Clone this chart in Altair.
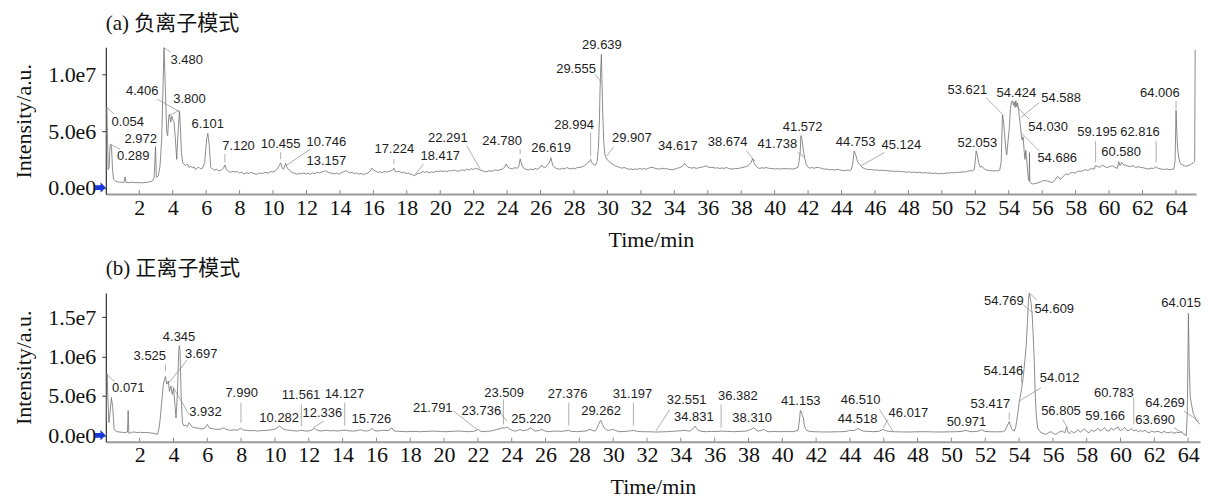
import altair as alt
import pandas as pd

# ---------------- axes ----------------
X_TICKS = list(range(2, 65, 2))
A_X_DOMAIN = [0, 65.2]
B_X_DOMAIN = [0, 64.7]

A_Y_TICKS = [0, 5e6, 1e7]
A_Y_LABELS = ["0.0e0", "5.0e6", "1.0e7"]
A_Y_DOMAIN = [-0.575e6, 12.43e6]

B_Y_TICKS = [0, 5e6, 1e7, 1.5e7]
B_Y_LABELS = ["0.0e0", "5.0e6", "1.0e6", "1.5e7"]
B_Y_DOMAIN = [-0.81e6, 18.1e6]

TITLE_A = "(a) 负离子模式"
TITLE_B = "(b) 正离子模式"
X_TITLE = "Time/min"
Y_TITLE = "Intensity/a.u."

# ---------------- panel (a) trace: (time/min, intensity in 1e6) ----------------
A_TRACE = [
    (0.0, 1.5), (0.03, 3.0), (0.054, 7.1), (0.10, 4.3), (0.14, 1.6), (0.20, 1.8), (0.25, 3.7),
    (0.289, 3.85), (0.34, 3.6), (0.40, 1.6), (0.46, 0.75), (0.60, 0.55), (0.75, 0.5), (0.90, 0.48),
    (1.09, 0.46), (1.15, 0.95), (1.21, 0.46), (1.40, 0.44), (1.60, 0.47), (1.80, 0.43), (2.00, 0.45),
    (2.20, 0.42), (2.40, 0.46), (2.60, 0.5), (2.79, 0.6), (2.89, 0.9), (2.972, 3.64), (3.02, 0.9),
    (3.14, 1.05), (3.24, 1.9), (3.34, 4.3), (3.42, 9.0), (3.48, 12.4), (3.56, 8.7), (3.64, 4.9),
    (3.70, 4.6), (3.76, 6.2), (3.80, 6.5), (3.88, 5.8), (3.94, 6.35), (4.00, 6.05), (4.08, 5.8),
    (4.16, 4.3), (4.24, 2.5), (4.32, 4.9), (4.406, 6.8), (4.46, 5.3), (4.52, 3.1), (4.60, 2.2),
    (4.70, 2.05), (4.78, 1.95), (4.88, 2.1), (4.98, 1.8), (5.08, 1.9), (5.17, 1.75), (5.27, 1.85),
    (5.37, 1.6), (5.47, 1.75), (5.57, 1.8), (5.67, 1.65), (5.77, 1.7), (5.91, 2.2), (6.03, 4.3),
    (6.101, 4.8), (6.19, 3.7), (6.27, 1.8), (6.37, 1.65), (6.47, 1.55), (6.62, 1.62), (6.77, 1.48),
    (6.90, 1.55), (7.03, 1.7), (7.12, 2.0), (7.22, 1.58), (7.34, 1.45), (7.46, 1.35), (7.60, 1.45),
    (7.74, 1.38), (7.86, 1.42), (8.00, 1.3), (8.13, 1.38), (8.26, 1.2), (8.40, 1.32), (8.53, 1.25),
    (8.66, 1.35), (8.80, 1.28), (8.92, 1.22), (9.05, 1.18), (9.18, 1.3), (9.32, 1.24), (9.45, 1.3),
    (9.58, 1.35), (9.72, 1.28), (9.85, 1.42), (10.0, 1.38), (10.15, 1.5), (10.30, 1.75),
    (10.455, 2.2), (10.55, 1.7), (10.62, 1.62), (10.746, 2.14), (10.85, 1.75), (10.95, 1.58),
    (11.05, 1.45), (11.14, 1.34), (11.28, 1.28), (11.44, 1.18), (11.58, 1.26), (11.72, 1.22),
    (11.84, 1.3), (11.98, 1.2), (12.10, 1.27), (12.24, 1.18), (12.38, 1.3), (12.50, 1.24),
    (12.64, 1.36), (12.78, 1.3), (12.90, 1.38), (13.03, 1.42), (13.157, 1.5), (13.30, 1.35),
    (13.42, 1.3), (13.53, 1.26), (13.68, 1.22), (13.80, 1.3), (13.93, 1.18), (14.06, 1.3),
    (14.20, 1.38), (14.33, 1.5), (14.46, 1.42), (14.60, 1.3), (14.73, 1.36), (14.86, 1.25),
    (15.0, 1.3), (15.12, 1.2), (15.26, 1.26), (15.40, 1.16), (15.52, 1.22), (15.66, 1.3),
    (15.80, 1.45), (15.92, 1.72), (16.02, 1.55), (16.12, 1.48), (16.26, 1.35), (16.40, 1.4),
    (16.52, 1.32), (16.66, 1.45), (16.80, 1.38), (16.92, 1.42), (17.06, 1.5), (17.15, 1.55),
    (17.224, 1.72), (17.30, 1.45), (17.41, 1.4), (17.55, 1.45), (17.68, 1.32), (17.81, 1.36),
    (17.95, 1.25), (18.08, 1.3), (18.21, 1.2), (18.34, 1.15), (18.417, 1.05), (18.51, 1.12),
    (18.65, 1.25), (18.81, 1.3), (18.95, 1.42), (19.08, 1.35), (19.20, 1.42), (19.34, 1.3),
    (19.47, 1.4), (19.60, 1.35), (19.73, 1.45), (19.86, 1.4), (20.0, 1.5), (20.13, 1.42),
    (20.27, 1.48), (20.40, 1.4), (20.54, 1.52), (20.67, 1.45), (20.80, 1.56), (20.93, 1.5),
    (21.06, 1.45), (21.19, 1.5), (21.32, 1.58), (21.46, 1.5), (21.59, 1.64), (21.72, 1.55),
    (21.86, 1.68), (21.99, 1.6), (22.13, 1.72), (22.291, 1.62), (22.39, 1.55), (22.52, 1.5),
    (22.66, 1.42), (22.79, 1.4), (22.92, 1.5), (23.05, 1.45), (23.18, 1.5), (23.31, 1.58),
    (23.45, 1.52), (23.58, 1.6), (23.72, 1.65), (23.85, 1.8), (23.95, 2.1), (24.05, 1.8),
    (24.18, 1.7), (24.32, 1.65), (24.47, 1.78), (24.60, 1.7), (24.70, 1.9), (24.78, 2.55),
    (24.88, 2.0), (24.97, 1.75), (25.10, 1.62), (25.27, 1.55), (25.40, 1.65), (25.55, 1.58),
    (25.67, 1.7), (25.80, 1.62), (25.95, 1.75), (26.07, 2.0), (26.17, 1.8), (26.26, 1.75),
    (26.40, 2.0), (26.52, 2.2), (26.619, 2.65), (26.72, 2.0), (26.86, 1.75), (27.00, 1.68),
    (27.16, 1.62), (27.30, 1.72), (27.45, 1.65), (27.55, 1.78), (27.70, 1.7), (27.82, 1.65),
    (27.95, 1.72), (28.08, 1.68), (28.22, 1.8), (28.35, 1.78), (28.50, 1.85), (28.62, 1.95),
    (28.75, 2.1), (28.88, 2.25), (28.994, 2.5), (29.08, 2.15), (29.18, 2.05), (29.28, 1.95),
    (29.38, 2.3), (29.46, 3.5), (29.52, 6.0), (29.555, 8.6), (29.60, 10.6), (29.639, 11.8),
    (29.68, 9.0), (29.72, 6.5), (29.78, 4.0), (29.85, 2.9), (29.907, 2.7), (29.98, 2.5),
    (30.10, 2.3), (30.22, 2.15), (30.35, 2.05), (30.50, 1.9), (30.62, 1.85), (30.74, 1.78),
    (30.88, 1.72), (31.0, 1.78), (31.14, 1.7), (31.28, 1.62), (31.40, 1.66), (31.54, 1.58),
    (31.68, 1.66), (31.80, 1.62), (31.94, 1.7), (32.08, 1.62), (32.20, 1.68), (32.33, 1.64),
    (32.47, 1.72), (32.60, 1.8), (32.73, 1.78), (32.86, 1.7), (33.0, 1.66), (33.13, 1.64),
    (33.27, 1.72), (33.40, 1.66), (33.53, 1.7), (33.67, 1.62), (33.80, 1.6), (33.93, 1.58),
    (34.06, 1.66), (34.19, 1.72), (34.32, 1.78), (34.45, 1.85), (34.55, 2.0), (34.617, 2.15),
    (34.72, 1.95), (34.82, 1.8), (34.92, 1.78), (35.05, 1.72), (35.18, 1.78), (35.32, 1.7),
    (35.45, 1.76), (35.60, 1.8), (35.75, 1.85), (35.92, 1.92), (36.05, 1.8), (36.18, 1.78),
    (36.31, 1.8), (36.45, 1.72), (36.58, 1.76), (36.71, 1.7), (36.85, 1.74), (36.98, 1.7),
    (37.11, 1.78), (37.25, 1.7), (37.38, 1.66), (37.51, 1.64), (37.65, 1.7), (37.78, 1.68),
    (37.91, 1.72), (38.05, 1.78), (38.18, 1.82), (38.30, 1.87), (38.42, 1.95), (38.52, 2.1),
    (38.60, 2.25), (38.674, 2.55), (38.76, 2.2), (38.84, 2.0), (38.92, 1.85), (39.02, 1.75),
    (39.10, 1.7), (39.24, 1.76), (39.37, 1.72), (39.50, 1.78), (39.63, 1.72), (39.76, 1.68),
    (39.89, 1.7), (40.02, 1.64), (40.16, 1.7), (40.29, 1.64), (40.42, 1.68), (40.56, 1.66),
    (40.69, 1.7), (40.82, 1.64), (40.96, 1.68), (41.09, 1.64), (41.24, 1.7), (41.39, 1.8),
    (41.47, 2.4), (41.53, 3.2), (41.572, 4.6), (41.63, 4.3), (41.69, 3.6), (41.738, 3.1),
    (41.80, 2.6), (41.89, 2.05), (41.98, 1.85), (42.09, 1.72), (42.22, 1.78), (42.38, 1.72),
    (42.52, 1.8), (42.68, 1.76), (42.82, 1.7), (42.98, 1.62), (43.12, 1.66), (43.28, 1.58),
    (43.42, 1.6), (43.58, 1.55), (43.72, 1.62), (43.87, 1.58), (44.02, 1.52), (44.18, 1.5),
    (44.32, 1.55), (44.47, 1.52), (44.58, 1.6), (44.67, 2.1), (44.753, 3.25), (44.83, 3.0),
    (44.92, 2.5), (45.0, 2.2), (45.124, 2.0), (45.22, 1.8), (45.36, 1.7), (45.50, 1.62),
    (45.66, 1.58), (45.80, 1.6), (45.95, 1.54), (46.10, 1.58), (46.26, 1.5), (46.42, 1.55),
    (46.58, 1.5), (46.74, 1.52), (46.90, 1.45), (47.06, 1.48), (47.22, 1.42), (47.38, 1.46),
    (47.54, 1.4), (47.70, 1.42), (47.86, 1.36), (48.02, 1.4), (48.18, 1.34), (48.34, 1.38),
    (48.50, 1.32), (48.66, 1.36), (48.82, 1.3), (48.98, 1.34), (49.14, 1.28), (49.30, 1.3),
    (49.46, 1.24), (49.62, 1.3), (49.78, 1.22), (49.94, 1.26), (50.10, 1.24), (50.26, 1.3),
    (50.42, 1.28), (50.58, 1.34), (50.74, 1.3), (50.90, 1.36), (51.06, 1.34), (51.22, 1.4),
    (51.38, 1.38), (51.54, 1.45), (51.70, 1.5), (51.82, 1.48), (51.94, 1.6), (52.0, 2.4),
    (52.053, 3.25), (52.12, 2.9), (52.20, 2.2), (52.30, 1.8), (52.40, 1.9), (52.50, 1.7),
    (52.63, 1.58), (52.78, 1.52), (52.92, 1.5), (53.06, 1.48), (53.20, 1.5), (53.33, 1.48),
    (53.46, 1.55), (53.55, 2.3), (53.621, 6.4), (53.68, 6.0), (53.75, 4.8), (53.82, 3.5),
    (53.88, 2.9), (53.95, 4.0), (54.03, 5.2), (54.10, 7.0), (54.16, 7.6), (54.22, 7.7),
    (54.28, 7.3), (54.33, 7.6), (54.38, 7.1), (54.424, 7.7), (54.48, 7.2), (54.53, 7.5),
    (54.588, 7.0), (54.63, 6.3), (54.686, 5.6), (54.74, 4.8), (54.80, 4.2), (54.86, 4.5),
    (54.92, 3.3), (54.97, 2.5), (55.02, 3.3), (55.08, 2.4), (55.14, 1.2), (55.18, 0.75),
    (55.22, 0.6), (55.24, 3.1), (55.26, 0.5), (55.34, 0.38), (55.42, 0.32), (55.55, 0.36),
    (55.72, 0.4), (55.88, 0.5), (56.02, 0.6), (56.18, 0.62), (56.32, 0.58), (56.47, 0.5),
    (56.61, 0.46), (56.76, 0.65), (56.91, 0.99), (57.01, 0.85), (57.11, 0.75), (57.26, 1.0),
    (57.41, 1.2), (57.56, 1.15), (57.70, 1.3), (57.81, 1.34), (57.96, 1.28), (58.10, 1.42),
    (58.21, 1.48), (58.36, 1.44), (58.50, 1.55), (58.60, 1.58), (58.75, 1.52), (58.88, 1.65),
    (59.0, 1.7), (59.10, 1.62), (59.195, 1.95), (59.30, 1.87), (59.45, 1.8), (59.60, 1.99),
    (59.75, 1.85), (59.90, 1.78), (60.05, 1.88), (60.20, 1.93), (60.35, 1.8), (60.49, 1.7),
    (60.58, 2.3), (60.65, 1.95), (60.75, 2.25), (60.87, 2.0), (60.99, 1.99), (61.14, 1.9),
    (61.29, 1.87), (61.44, 1.95), (61.59, 1.78), (61.74, 1.85), (61.88, 1.8), (61.99, 1.78),
    (62.14, 1.72), (62.26, 1.68), (62.38, 1.64), (62.52, 1.72), (62.66, 1.7), (62.816, 1.85),
    (62.92, 1.72), (63.05, 1.66), (63.18, 1.64), (63.32, 1.6), (63.45, 1.66), (63.58, 1.58),
    (63.72, 1.62), (63.88, 1.64), (63.95, 2.4), (64.006, 6.85), (64.05, 5.0), (64.10, 3.4),
    (64.18, 2.6), (64.25, 2.2), (64.38, 2.0), (64.50, 1.93), (64.65, 1.9), (64.80, 1.99),
    (64.92, 2.1), (65.05, 2.2), (65.12, 2.3), (65.15, 12.2),
]

# ---------------- panel (b) trace: (time/min, intensity in 1e6) ----------------
B_TRACE = [
    (0.0, 1.5), (0.02, 1.8), (0.071, 7.8), (0.12, 4.8), (0.18, 1.6), (0.26, 3.1), (0.33, 4.8),
    (0.41, 3.5), (0.49, 0.75), (0.60, 0.55), (0.69, 0.46), (0.85, 0.4), (1.0, 0.38), (1.08, 0.33),
    (1.28, 0.42), (1.32, 3.15), (1.36, 0.25), (1.50, 0.38), (1.67, 0.42), (1.85, 0.36),
    (2.05, 0.38), (2.26, 0.33), (2.45, 0.36), (2.65, 0.3), (2.85, 0.25), (3.05, 0.12),
    (3.15, 0.96), (3.22, 2.2), (3.29, 3.9), (3.40, 6.5), (3.525, 7.5), (3.60, 6.5), (3.697, 6.9),
    (3.76, 5.6), (3.84, 6.25), (3.932, 5.2), (4.0, 6.0), (4.07, 4.35), (4.15, 2.2), (4.23, 5.2),
    (4.31, 10.7), (4.345, 11.4), (4.39, 10.7), (4.45, 5.2), (4.53, 1.6), (4.62, 1.2), (4.72, 1.3),
    (4.82, 1.1), (4.92, 1.6), (5.02, 1.3), (5.12, 1.05), (5.30, 0.95), (5.51, 0.88), (5.70, 0.8),
    (5.88, 0.95), (6.0, 1.39), (6.1, 1.0), (6.2, 0.88), (6.40, 0.8), (6.59, 0.75), (6.80, 0.8),
    (6.99, 0.96), (7.10, 0.75), (7.38, 0.63), (7.60, 0.7), (7.80, 0.65), (7.97, 0.9), (8.10, 0.68),
    (8.36, 0.63), (8.60, 0.58), (8.80, 0.62), (8.95, 0.54), (9.20, 0.6), (9.54, 0.63), (9.75, 0.68),
    (9.94, 0.75), (10.10, 0.9), (10.282, 1.18), (10.40, 0.95), (10.53, 0.75), (10.70, 0.68),
    (10.92, 0.63), (11.10, 0.58), (11.31, 0.54), (11.45, 0.6), (11.60, 0.63), (11.75, 0.56),
    (11.90, 0.54), (12.10, 0.6), (12.336, 0.88), (12.45, 0.7), (12.69, 0.54), (12.90, 0.6),
    (13.09, 0.63), (13.30, 0.56), (13.50, 0.6), (13.68, 0.54), (13.90, 0.6), (14.17, 0.66),
    (14.40, 0.56), (14.66, 0.54), (14.85, 0.6), (15.05, 0.71), (15.25, 0.58), (15.45, 0.54),
    (15.60, 0.65), (15.726, 0.9), (15.85, 0.62), (16.04, 0.54), (16.25, 0.6), (16.43, 0.63),
    (16.70, 0.6), (16.92, 0.96), (17.02, 0.6), (17.12, 0.54), (17.40, 0.5), (17.81, 0.46),
    (18.20, 0.5), (18.59, 0.46), (19.0, 0.5), (19.38, 0.54), (19.78, 0.48), (20.17, 0.46),
    (20.56, 0.52), (20.96, 0.54), (21.25, 0.48), (21.55, 0.46), (21.80, 0.54), (22.04, 0.75),
    (22.14, 0.55), (22.24, 0.46), (22.50, 0.5), (22.73, 0.54), (22.92, 0.62), (23.12, 0.75),
    (23.30, 0.82), (23.42, 0.96), (23.55, 0.9), (23.72, 1.05), (23.80, 0.95), (23.91, 0.75),
    (24.05, 0.6), (24.21, 0.54), (24.36, 0.6), (24.50, 0.75), (24.62, 0.6), (24.80, 0.63),
    (24.95, 0.7), (25.13, 0.96), (25.26, 0.7), (25.39, 0.54), (25.60, 0.6), (25.78, 0.75),
    (25.95, 0.56), (26.17, 0.46), (26.40, 0.52), (26.67, 0.54), (26.90, 0.5), (27.15, 0.56),
    (27.36, 0.63), (27.55, 0.5), (27.85, 0.46), (28.10, 0.5), (28.40, 0.56), (28.63, 0.75),
    (28.80, 0.6), (28.93, 0.54), (29.05, 0.9), (29.13, 1.39), (29.262, 1.9), (29.36, 1.4),
    (29.46, 0.96), (29.60, 0.7), (29.72, 0.63), (29.85, 0.68), (30.01, 0.75), (30.20, 0.56),
    (30.40, 0.46), (30.70, 0.5), (30.95, 0.54), (31.19, 0.63), (31.45, 0.5), (31.70, 0.46),
    (31.98, 0.46), (32.25, 0.44), (32.57, 0.42), (32.85, 0.44), (33.16, 0.46), (33.45, 0.5),
    (33.75, 0.54), (34.0, 0.58), (34.24, 0.63), (34.40, 0.56), (34.54, 0.54), (34.70, 0.8),
    (34.831, 1.18), (34.93, 0.9), (35.03, 0.63), (35.25, 0.5), (35.52, 0.46), (35.80, 0.5),
    (36.10, 0.48), (36.41, 0.54), (36.75, 0.5), (37.10, 0.46), (37.50, 0.5), (37.88, 0.54),
    (38.10, 0.7), (38.31, 0.96), (38.45, 0.7), (38.57, 0.54), (38.75, 0.6), (38.91, 0.75),
    (39.05, 0.55), (39.16, 0.46), (39.50, 0.48), (39.85, 0.46), (40.25, 0.48), (40.64, 0.46),
    (40.93, 0.63), (41.0, 1.6), (41.07, 3.17), (41.153, 2.8), (41.19, 2.45), (41.25, 2.2),
    (41.29, 1.39), (41.36, 0.9), (41.43, 0.63), (41.62, 0.5), (41.82, 0.46), (42.20, 0.44),
    (42.61, 0.42), (43.0, 0.44), (43.39, 0.46), (43.59, 0.46), (43.80, 0.5), (43.98, 0.63),
    (44.25, 0.6), (44.47, 0.88), (44.60, 0.7), (44.77, 0.54), (45.05, 0.5), (45.36, 0.46),
    (45.70, 0.5), (45.95, 0.75), (46.10, 0.6), (46.24, 0.54), (46.54, 0.46), (46.90, 0.44),
    (47.33, 0.42), (47.80, 0.44), (48.31, 0.46), (48.80, 0.44), (49.29, 0.42), (49.80, 0.44),
    (50.28, 0.46), (50.60, 0.5), (50.87, 0.63), (51.05, 0.5), (51.26, 0.46), (51.55, 0.5),
    (51.81, 0.71), (51.98, 0.5), (52.24, 0.46), (52.60, 0.44), (53.03, 0.46), (53.17, 0.6),
    (53.27, 1.05), (53.417, 1.73), (53.50, 1.2), (53.58, 0.75), (53.72, 0.54), (53.80, 1.0),
    (53.86, 1.81), (53.94, 3.0), (54.012, 4.3), (54.10, 5.3), (54.146, 5.8), (54.21, 6.8),
    (54.30, 8.5), (54.41, 11.0), (54.50, 14.5), (54.56, 17.4), (54.609, 18.05), (54.70, 17.0),
    (54.769, 15.6), (54.83, 13.0), (54.90, 9.5), (54.96, 5.0), (55.02, 2.5), (55.10, 0.9),
    (55.24, 0.46), (55.40, 0.25), (55.59, 0.12), (55.75, 0.35), (55.89, 0.46), (56.05, 0.2),
    (56.18, 0.12), (56.35, 0.4), (56.57, 0.54), (56.70, 0.3), (56.805, 1.05), (56.90, 0.35),
    (56.97, 0.2), (57.10, 0.55), (57.22, 0.3), (57.36, 0.46), (57.50, 0.7), (57.62, 0.4),
    (57.75, 0.63), (57.88, 0.8), (58.02, 0.45), (58.15, 0.33), (58.28, 0.7), (58.40, 0.5),
    (58.54, 0.63), (58.68, 0.9), (58.80, 0.55), (58.94, 0.75), (59.05, 1.0), (59.166, 0.6),
    (59.33, 0.54), (59.45, 0.95), (59.58, 0.65), (59.72, 0.88), (59.85, 1.05), (59.98, 0.6),
    (60.12, 0.75), (60.25, 1.0), (60.38, 0.6), (60.51, 0.63), (60.65, 0.85), (60.783, 0.54),
    (60.92, 0.7), (61.05, 0.45), (61.18, 0.6), (61.30, 0.46), (61.45, 0.65), (61.58, 0.4),
    (61.69, 0.33), (61.85, 0.55), (62.0, 0.4), (62.15, 0.5), (62.28, 0.46), (62.42, 0.3),
    (62.58, 0.5), (62.72, 0.35), (62.87, 0.33), (63.0, 0.45), (63.15, 0.25), (63.30, 0.4),
    (63.46, 0.33), (63.60, 0.45), (63.70, 0.2), (63.82, 0.12), (63.89, -0.1), (63.95, 3.0),
    (64.015, 15.5), (64.06, 9.0), (64.12, 5.0), (64.20, 3.9), (64.30, 2.8), (64.50, 1.85),
    (64.75, 1.3), (65.0, 0.96), (65.15, 0.9),
]

# ---------------- peak labels: (text, time, intensity 1e6) ----------------
A_LABELS = [
    ("3.480", 4.84, 11.31), ("4.406", 2.18, 8.57), ("3.800", 5.00, 7.89), ("0.054", 1.31, 5.82),
    ("2.972", 2.09, 4.35), ("0.289", 1.64, 2.81), ("6.101", 6.09, 5.68), ("7.120", 7.94, 3.70),
    ("10.455", 10.45, 3.85), ("10.746", 13.19, 4.05), ("13.157", 13.19, 2.32),
    ("17.224", 17.25, 3.41), ("18.417", 20.00, 2.81), ("22.291", 20.45, 4.44),
    ("24.780", 23.70, 4.14), ("26.619", 26.63, 3.47), ("28.994", 28.00, 5.53),
    ("29.555", 28.12, 10.55), ("29.639", 29.67, 12.64), ("29.907", 31.46, 4.44),
    ("34.617", 34.21, 3.70), ("38.674", 37.19, 4.00), ("41.738", 40.16, 3.85),
    ("41.572", 41.67, 5.33), ("44.753", 44.84, 4.05), ("45.124", 47.58, 3.79),
    ("52.053", 52.12, 3.94), ("53.621", 51.52, 8.65), ("54.424", 54.45, 8.36),
    ("54.588", 57.13, 7.92), ("54.030", 56.36, 5.33), ("54.686", 56.90, 2.61),
    ("59.195", 59.28, 4.97), ("60.580", 60.72, 3.12), ("62.816", 61.85, 4.97),
    ("64.006", 63.04, 8.42),
]
B_LABELS = [
    ("0.071", 1.33, 6.04), ("3.525", 2.60, 10.06), ("4.345", 4.33, 12.47), ("3.697", 5.64, 10.36),
    ("3.932", 5.89, 2.99), ("7.990", 8.03, 5.32), ("10.282", 10.25, 2.14), ("11.561", 11.54, 5.11),
    ("12.336", 12.80, 2.78), ("14.127", 14.11, 5.19), ("15.726", 15.70, 2.02),
    ("21.791", 19.33, 3.41), ("23.736", 22.20, 3.08), ("23.509", 23.55, 5.41),
    ("25.220", 25.15, 2.02), ("27.376", 27.30, 5.19), ("29.262", 29.28, 3.08),
    ("31.197", 31.14, 5.19), ("32.551", 34.34, 4.43), ("34.831", 34.77, 2.32),
    ("36.382", 37.37, 4.99), ("38.310", 38.22, 2.14), ("41.153", 41.09, 4.35),
    ("44.518", 44.45, 2.11), ("46.510", 44.63, 4.43), ("46.017", 47.46, 2.78),
    ("50.971", 50.89, 1.73), ("53.417", 52.30, 3.92), ("54.146", 53.07, 8.16),
    ("54.012", 56.40, 7.31), ("54.769", 53.10, 17.04), ("54.609", 56.08, 16.07),
    ("56.805", 56.48, 3.08), ("59.166", 59.09, 2.45), ("60.783", 59.60, 5.32),
    ("63.690", 62.04, 1.94), ("64.269", 62.63, 4.14), ("64.015", 63.58, 16.83),
]

# ---------------- leader lines: (t1, v1, t2, v2) ----------------
A_LEADERS = [
    (3.48, 12.41, 3.88, 12.0), (3.09, 7.83, 4.44, 6.71), (4.38, 6.86, 3.78, 6.35),
    (0.06, 7.1, 0.5, 6.5), (0.26, 3.85, 0.85, 3.41), (7.12, 2.96, 7.12, 2.26),
    (10.455, 3.14, 10.455, 2.52), (10.75, 1.93, 12.24, 3.41), (17.224, 2.52, 17.224, 2.08),
    (18.51, 1.19, 19.0, 2.08), (21.59, 3.7, 22.39, 1.64), (24.78, 3.41, 24.78, 2.96),
    (28.994, 4.91, 28.994, 2.81), (29.25, 10.04, 29.6, 9.4), (30.35, 3.56, 29.95, 2.81),
    (38.31, 3.26, 38.81, 2.37), (41.39, 3.12, 41.79, 2.67), (46.57, 3.12, 45.18, 1.93),
    (52.64, 7.98, 53.73, 6.35), (55.82, 7.54, 54.73, 6.21), (55.22, 6.06, 54.43, 7.24),
    (55.82, 3.26, 54.73, 4.88), (59.195, 4.14, 59.195, 2.23), (62.816, 4.14, 62.816, 2.23),
    (64.006, 7.68, 64.006, 6.95),
]
B_LEADERS = [
    (0.1, 7.65, 0.53, 6.8), (3.525, 9.0, 3.525, 8.16), (4.82, 9.63, 3.74, 6.68),
    (4.92, 2.65, 3.94, 6.26), (7.99, 4.14, 7.99, 1.6), (11.561, 3.92, 11.561, 1.18),
    (12.89, 1.81, 12.26, 0.96), (14.127, 4.14, 14.127, 1.23), (20.56, 3.08, 21.94, 0.75),
    (23.32, 2.87, 23.71, 1.81), (23.509, 4.56, 23.509, 1.38), (27.376, 4.14, 27.376, 1.23),
    (31.197, 4.14, 31.197, 1.23), (33.35, 3.29, 32.53, 0.55), (36.382, 3.92, 36.382, 0.96),
    (45.75, 3.29, 46.54, 0.55), (46.22, 1.98, 45.98, 0.96), (53.417, 2.87, 53.417, 2.02),
    (54.146, 9.0, 54.146, 6.68), (55.29, 6.04, 54.01, 4.35), (54.25, 16.61, 54.8, 15.56),
    (55.04, 17.25, 54.6, 18.1), (56.57, 2.02, 56.87, 0.96), (60.783, 4.77, 60.783, 1.38),
    (63.16, 0.96, 63.65, 0.33), (63.75, 3.08, 64.64, 1.81),
]

# marker at the zero line (time, intensity)
ZERO_MARK = [(-0.33, 0.0)]

SERIF = "Liberation Serif"
TITLE_FONT = "'Liberation Serif', 'Noto Sans CJK SC'"
ARROW = "M -1 -0.45 L 0.05 -0.45 L 0.05 -1 L 1 0 L 0.05 1 L 0.05 0.45 L -1 0.45 Z"
M = 1e6


def label_expr(ticks, labels):
    expr = "''"
    for t, lab in reversed(list(zip(ticks, labels))):
        expr = f"datum.value == {t} ? '{lab}' : ({expr})"
    return expr


def panel(title, trace, labels, leaders, x_dom, y_dom, y_ticks, y_labels, w, h, title_offset):
    tdf = pd.DataFrame(trace, columns=["t", "v"])
    tdf["v"] = tdf["v"] * M
    ldf = pd.DataFrame(labels, columns=["text", "t", "v"])
    ldf["v"] = ldf["v"] * M
    rdf = pd.DataFrame(leaders, columns=["t", "v", "t2", "v2"])
    rdf["v"] = rdf["v"] * M
    rdf["v2"] = rdf["v2"] * M
    mdf = pd.DataFrame(ZERO_MARK, columns=["t", "v"])
    kdf = pd.DataFrame({"t": [t for t in X_TICKS if t <= x_dom[1]]})

    xs = alt.Scale(domain=x_dom, nice=False, zero=False)
    ys = alt.Scale(domain=y_dom, nice=False, zero=False)
    xax = alt.Axis(values=X_TICKS, title=X_TITLE, ticks=False, grid=False,
                   domainColor="#9a9a9a", domainWidth=2,
                   labelFont=SERIF, labelFontSize=22, labelColor="#111", labelPadding=3,
                   labelFlush=False, labelOverlap=False, labelSeparation=0, format="d",
                   titleFont=SERIF, titleFontSize=22, titleFontWeight="normal",
                   titleColor="#111", titlePadding=11)
    yax = alt.Axis(values=y_ticks, labelExpr=label_expr(y_ticks, y_labels), title=Y_TITLE,
                   grid=False, domainColor="#333", domainWidth=1.2, tickColor="#333",
                   tickSize=4, labelFont=SERIF, labelFontSize=22, labelColor="#111",
                   labelPadding=6, labelFlush=False, labelOverlap=False,
                   titleFont=SERIF, titleFontSize=22, titleFontWeight="normal",
                   titleColor="#111", titlePadding=12)

    line = alt.Chart(tdf).mark_line(color="#707070", strokeWidth=0.8, clip=True).encode(
        x=alt.X("t:Q", scale=xs, axis=xax), y=alt.Y("v:Q", scale=ys, axis=yax))
    lead = alt.Chart(rdf).mark_rule(color="#8c8c8c", strokeWidth=0.7).encode(
        x=alt.X("t:Q", axis=xax), y=alt.Y("v:Q", axis=yax), x2="t2:Q", y2="v2:Q")
    txt = alt.Chart(ldf).mark_text(font="Liberation Sans", fontSize=13, color="#1e1e1e").encode(
        x=alt.X("t:Q", axis=xax), y=alt.Y("v:Q", axis=yax), text="text:N")
    ticks = alt.Chart(kdf).mark_rule(color="#888", strokeWidth=1).encode(
        x=alt.X("t:Q", axis=xax), y=alt.value(h), y2=alt.value(h - 4))
    mark = alt.Chart(mdf).mark_point(shape=ARROW, filled=True, color="#1538d6",
                                     size=110, opacity=1).encode(
        x=alt.X("t:Q", axis=xax), y=alt.Y("v:Q", axis=yax))
    return alt.layer(line, lead, txt, ticks, mark).properties(
        width=w, height=h,
        title=alt.TitleParams(title, anchor="start", frame="group", font=TITLE_FONT,
                              fontSize=21, fontWeight="normal", color="#111",
                              offset=title_offset))


pa = panel(TITLE_A, A_TRACE, A_LABELS, A_LEADERS, A_X_DOMAIN, A_Y_DOMAIN, A_Y_TICKS,
           A_Y_LABELS, 1092, 147, 5)
pb = panel(TITLE_B, B_TRACE, B_LABELS, B_LEADERS, B_X_DOMAIN, B_Y_DOMAIN, B_Y_TICKS,
           B_Y_LABELS, 1096, 149, 14)

chart = alt.vconcat(pa, pb, spacing=7).properties(
    padding={"left": 4, "top": 4, "right": 0, "bottom": 0}
).configure_view(stroke=None).configure_axis(labelOverlap=False)

chart.save("out.html", embed_options={"renderer": "svg", "actions": False})
